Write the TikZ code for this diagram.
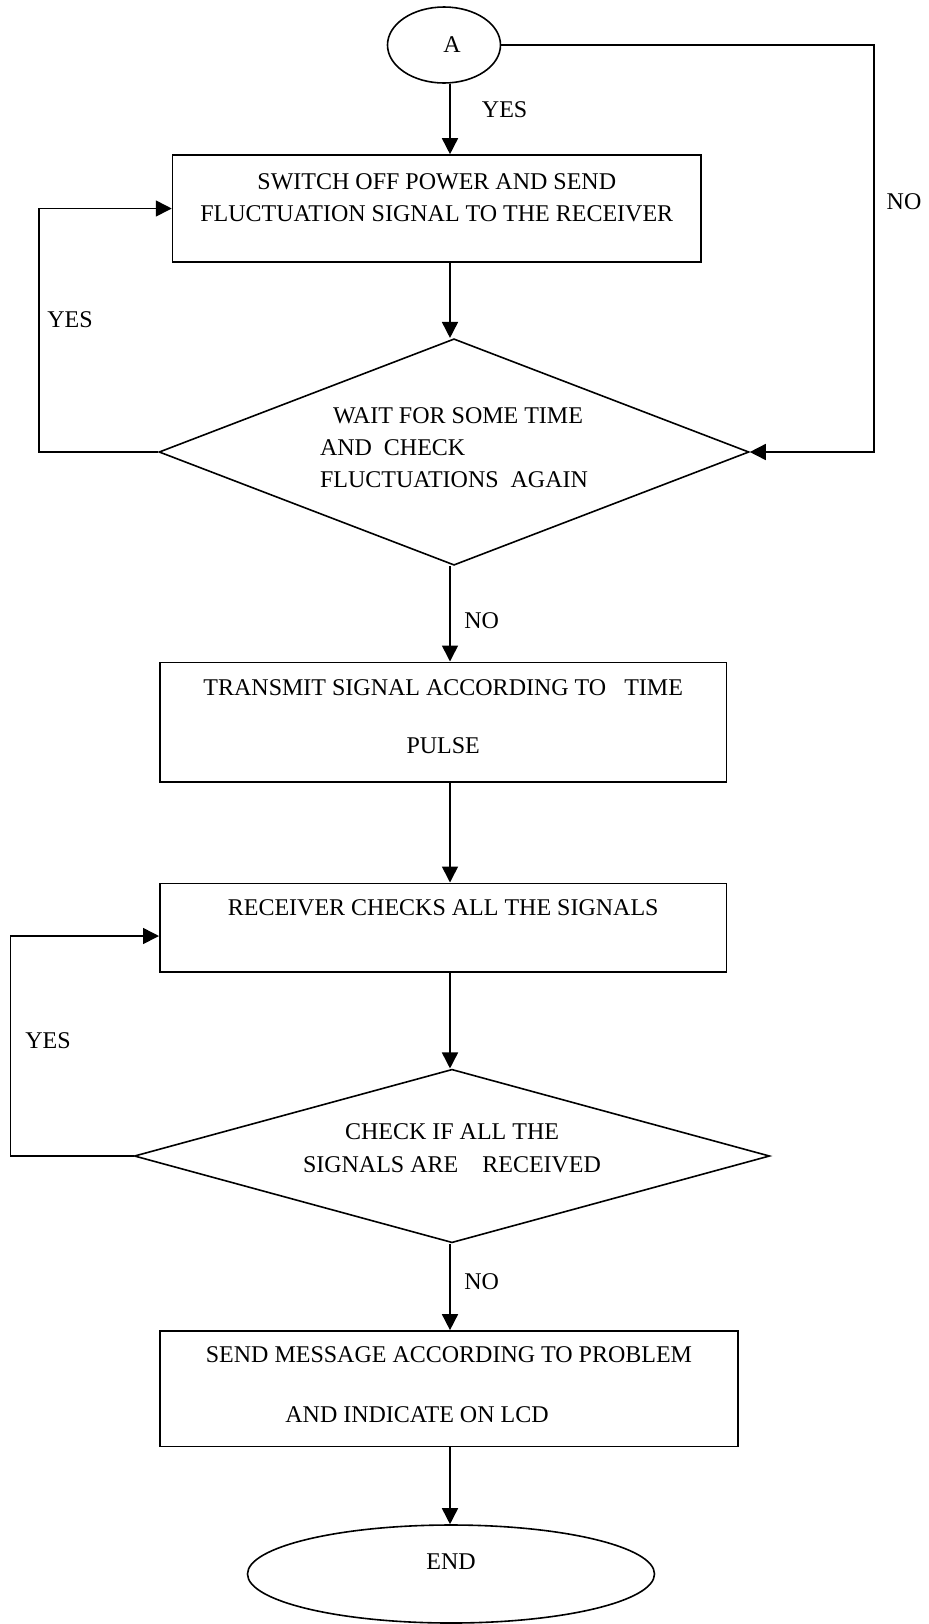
\documentclass[tikz,border=0pt]{standalone}
\usepackage{fontspec}
\setmainfont{Liberation Serif}
\usetikzlibrary{arrows.meta,shapes.geometric}

\begin{document}
\begin{tikzpicture}[
  x=0.5pt,y=-0.5pt,
  box/.style={draw,line width=0.8pt,minimum width=283.4pt,inner sep=0pt,align=center,
              font=\fontsize{12}{16}\selectfont},
  decision/.style={draw,diamond,aspect=3.3,line width=0.8pt,inner sep=0pt,align=center,
              font=\fontsize{12}{16}\selectfont},
  terminal/.style={draw,ellipse,line width=0.8pt,inner sep=0pt,font=\fontsize{12}{16}\selectfont},
  tag/.style={inner sep=0pt,font=\fontsize{12}{16}\selectfont},
  arrow/.style={-{Triangle[length=8pt,width=8pt]},line width=0.8pt}
]
\useasboundingbox (0,0) rectangle (928,1624);
\coordinate (axis) at (450,0);
\node[terminal,minimum width=56.5pt,minimum height=38pt] (a) at (444,45) {\hspace*{8pt}A};
\node[box,minimum width=264.25pt,minimum height=53.5pt] (b1) at (436.8,208.5)
  {SWITCH OFF POWER AND SEND\\FLUCTUATION SIGNAL TO THE RECEIVER\rule[-11pt]{0pt}{0pt}};
\node[decision,minimum width=295pt,minimum height=113.25pt,align=left] (d1) at (454,452)
  {\hspace*{6.5pt}WAIT FOR SOME TIME\\AND\ \ CHECK\\FLUCTUATIONS\ \ AGAIN\rule[-4pt]{0pt}{0pt}};
\node[box,minimum height=59.7pt] (b2) at (443.2,722)
  {TRANSMIT SIGNAL ACCORDING TO\ \ \ TIME\\[13pt]PULSE\rule[-5pt]{0pt}{0pt}};
\node[box,minimum height=44.2pt] (b3) at (443.2,927.5)
  {RECEIVER CHECKS ALL THE SIGNALS\rule[-20pt]{0pt}{0pt}};
\node[decision,minimum width=317.7pt,minimum height=86.75pt] (d2) at (452,1156)
  {CHECK IF ALL THE\\[0.7pt]SIGNALS ARE\ \ \ \ RECEIVED\rule[-8pt]{0pt}{0pt}};
\node[box,minimum width=289pt,minimum height=57.85pt] (b4) at (449,1388.8)
  {SEND MESSAGE ACCORDING TO PROBLEM\\[14pt]AND INDICATE ON LCD\hspace*{32pt}\rule[-4pt]{0pt}{0pt}};
\node[terminal,minimum width=203.5pt,minimum height=49pt] (e) at (451,1574)
  {END\rule[-12pt]{0pt}{0pt}};

\node[tag] (yesa) at (504.6,110) {YES};
\node[tag] (noa) at (904,202) {NO};
\node[tag] (yesb) at (70,320) {YES};
\node[tag] (nob) at (481.7,621) {NO};
\node[tag] (yesc) at (48,1041) {YES};
\node[tag] (noc) at (481.7,1281.5) {NO};

\coordinate (noturn) at (874,452);
\coordinate (loopa) at (39,452);
\coordinate (loopb) at (10.5,1156);

\draw[arrow] (a.south -| axis) -- (b1.north -| axis);
\draw[arrow] (b1.south -| axis) -- (d1.north -| axis);
\draw[arrow] (d1.south -| axis) -- (b2.north -| axis);
\draw[arrow] (b2.south -| axis) -- (b3.north -| axis);
\draw[arrow] (b3.south -| axis) -- (d2.north -| axis);
\draw[arrow] (d2.south -| axis) -- (b4.north -| axis);
\draw[arrow] (b4.south -| axis) -- (e.north -| axis);
\draw[arrow] (a.east) -| (noturn) -- (d1.east);
\draw[arrow] (d1.west) -- (loopa) |- (b1.west);
\draw[arrow] (d2.west) -- (loopb) |- ([yshift=-4.25pt]b3.west);
\end{tikzpicture}
\end{document}
